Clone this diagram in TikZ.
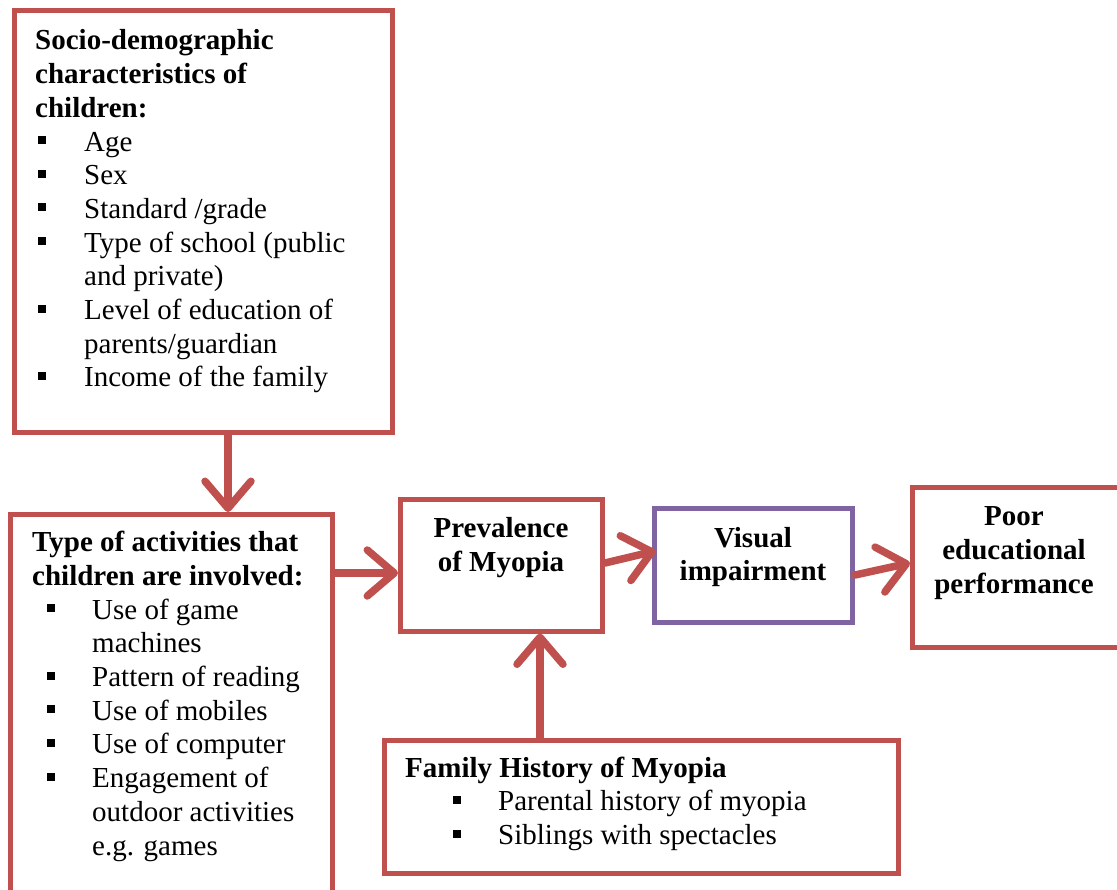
\documentclass[tikz,border=0pt]{standalone}
\usepackage{fontspec}
\setmainfont{Liberation Serif}
\usetikzlibrary{arrows.meta}
\definecolor{boxred}{HTML}{C0504D}
\definecolor{boxpurple}{HTML}{8064A2}
\newcommand\sqb{\rule[7pt]{8pt}{8pt}}
\tikzset{
  rbox/.style={draw=boxred, line width=5pt, rectangle, inner sep=0pt, fill=white},
  pbox/.style={draw=boxpurple, line width=5pt, rectangle, inner sep=0pt, fill=white},
  txt/.style={inner sep=0pt, font=\fontsize{29}{33.7}\selectfont},
  conn/.style={draw=boxred, line width=7.5pt, line cap=round,
    -{Straight Barb[length=27pt, width=46pt, round]}},
}
\begin{document}
\begin{tikzpicture}[x=1pt, y=-1pt]
\clip (0,0) rectangle (1117,890);
\fill[white] (0,0) rectangle (1117,890);
% boxes
\node[rbox, minimum width=378pt, minimum height=422pt] (b1) at (203.5,221.5) {};
\node[rbox, minimum width=322pt, minimum height=390.5pt] (b2) at (171.5,709.75) {};
\node[rbox, minimum width=202pt, minimum height=131.5pt] (b3) at (501.5,565.25) {};
\node[pbox, minimum width=198pt, minimum height=114pt] (b4) at (753.5,565.5) {};
\node[rbox, minimum width=217.5pt, minimum height=160pt] (b5) at (1021.25,567.5) {};
\node[rbox, minimum width=514pt, minimum height=133pt] (b6) at (641.5,807) {};
% texts (anchored at the baseline of the last line)
\node[txt, anchor=base west, align=left] (t1) at (35,387) {%
\textbf{Socio-demographic}\\
\textbf{characteristics of}\\
\textbf{children:}\\
\hspace*{3pt}\makebox[46pt][l]{\sqb}Age\\
\hspace*{3pt}\makebox[46pt][l]{\sqb}Sex\\
\hspace*{3pt}\makebox[46pt][l]{\sqb}Standard /grade\\
\hspace*{3pt}\makebox[46pt][l]{\sqb}Type of school (public\\
\hspace*{49pt}and private)\\
\hspace*{3pt}\makebox[46pt][l]{\sqb}Level of education of\\
\hspace*{49pt}parents/guardian\\
\hspace*{3pt}\makebox[46pt][l]{\sqb}Income of the family};
\node[txt, anchor=base west, align=left] (t2) at (32,855) {%
\textbf{Type of activities that}\\
\textbf{children are involved:}\\
\hspace*{15pt}\makebox[45pt][l]{\sqb}Use of game\\
\hspace*{60pt}machines\\
\hspace*{15pt}\makebox[45pt][l]{\sqb}Pattern of reading\\
\hspace*{15pt}\makebox[45pt][l]{\sqb}Use of mobiles\\
\hspace*{15pt}\makebox[45pt][l]{\sqb}Use of computer\\
\hspace*{15pt}\makebox[45pt][l]{\sqb}Engagement of\\
\hspace*{60pt}outdoor activities\\
\hspace*{60pt}e.g. games};
\node[txt, anchor=base, align=center, font=\fontsize{29}{34.5}\selectfont\bfseries] (t3) at (501,571.5) {Prevalence\\of Myopia};
\node[txt, anchor=base, align=center, font=\fontsize{29}{33.5}\selectfont\bfseries] (t4) at (753,580.5) {Visual\\impairment};
\node[txt, anchor=base, align=center, font=\fontsize{29}{34}\selectfont\bfseries] (t5) at (1014,593) {Poor\\educational\\performance};
\node[txt, anchor=base west, align=left] (t6) at (405,844.5) {%
\textbf{Family History of Myopia}\\
\hspace*{48pt}\makebox[45pt][l]{\sqb}Parental history of myopia\\
\hspace*{48pt}\makebox[45pt][l]{\sqb}Siblings with spectacles};
% connectors
\draw[conn] ([xshift=24.5pt]b1.south) -- ([xshift=56.5pt]b2.north);
\draw[conn] ([yshift=136.75pt]b2.east) -- ([yshift=-7.75pt]b3.west);
\draw[conn] ([yshift=2.25pt]b3.east) -- ([xshift=3.5pt,yshift=14.5pt]b4.west);
\draw[conn] ([yshift=-9.5pt]b4.east) -- ([yshift=4.5pt]b5.west);
\draw[conn] ([xshift=-101.5pt]b6.north) -- ([xshift=38.5pt]b3.south);
\end{tikzpicture}
\end{document}
